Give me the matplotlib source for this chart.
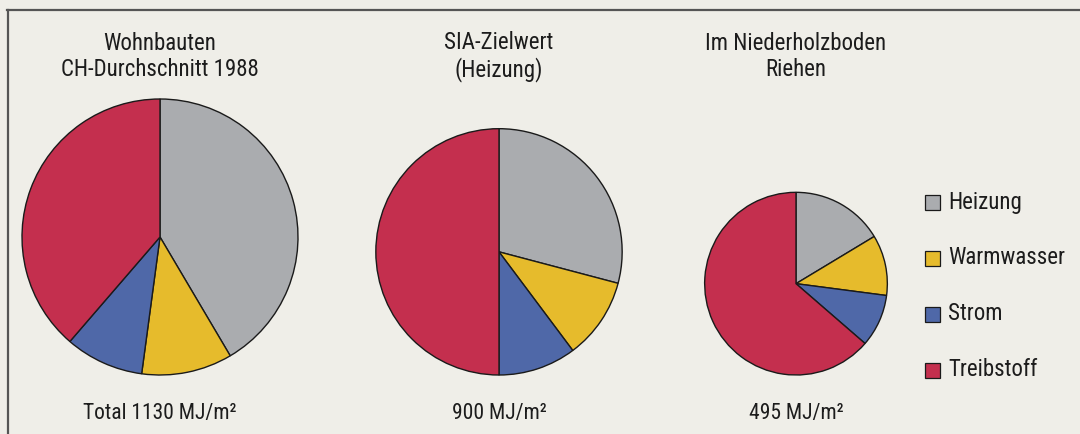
import matplotlib
matplotlib.use("Agg")
import matplotlib.pyplot as plt
from matplotlib.patches import Rectangle
import numpy as np

# ---- data ----
categories = ["Heizung", "Warmwasser", "Strom", "Treibstoff"]
colors = ["#aaacaf", "#e6bb2c", "#4f68a8", "#c42f4e"]

titles = ["Wohnbauten\nCH-Durchschnitt 1988", "SIA-Zielwert\n(Heizung)", "Im Niederholzboden\nRiehen"]
totals = [1130, 900, 495]
total_labels = ["Total 1130 MJ/m\u00b2", "900 MJ/m\u00b2", "495 MJ/m\u00b2"]

wohnbauten = [469, 120, 104, 437]
sia_zielwert = [262, 96, 92, 450]
niederholzboden = [81, 53, 46, 315]
series = [wohnbauten, sia_zielwert, niederholzboden]

# ---- figure ----
W, H = 1080, 434
fig = plt.figure(figsize=(W / 100, H / 100), dpi=100)
fig.patch.set_facecolor("#efeee8")
ax = fig.add_axes([0, 0, 1, 1])

fam = ["Roboto Condensed", "DejaVu Sans"]
FS = 16.5

def Y(y):
    return H - y

centers_x = [160, 499, 796]
R0 = 138
bottom = 375
for vals, tot, cx, title, tl in zip(series, totals, centers_x, titles, total_labels):
    r = R0 * np.sqrt(tot / totals[0])
    cy = bottom - r
    ax.pie(vals, colors=colors, startangle=90, counterclock=False,
           radius=r, center=(cx, Y(cy)), frame=True,
           wedgeprops=dict(edgecolor="#1a1a1a", linewidth=1.0))
    ax.text(cx, Y(56.5), title, ha="center", va="center", fontsize=FS,
            family=fam, color="#1c1c1c", linespacing=1.2)
    ax.text(cx, Y(413), tl, ha="center", va="center", fontsize=15.5,
            family=fam, color="#1c1c1c")

ax.set_xlim(0, W)
ax.set_ylim(0, H)
ax.set_aspect("equal")
ax.axis("off")

# frame
ax.plot([7, W], [Y(10), Y(10)], color="#555555", lw=1.6)
ax.plot([8, 8], [Y(10), 0], color="#555555", lw=1.6)

# legend
leg_y = [202, 258, 314, 370]
for lab, col, ly in zip(categories, colors, leg_y):
    ax.add_patch(Rectangle((925, Y(ly) - 7.5), 15, 15, facecolor=col,
                           edgecolor="#1a1a1a", lw=0.9))
    ax.text(948, Y(ly), lab, ha="left", va="center", fontsize=FS,
            family=fam, color="#1c1c1c")

fig.savefig("out.png", dpi=100, facecolor=fig.get_facecolor())
